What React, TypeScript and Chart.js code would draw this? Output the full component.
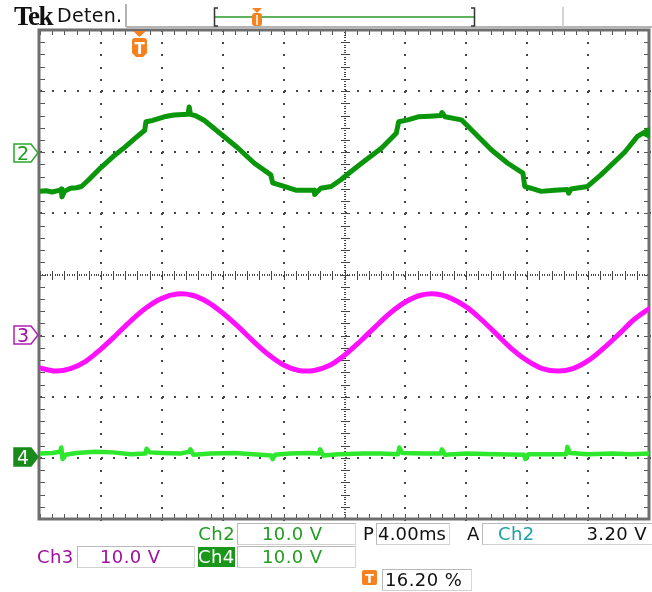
import React, { useEffect, useRef } from 'react';
import { Chart, registerables } from 'chart.js';
Chart.register(...registerables);

// time in divisions (4.00 ms/div), values in screen divisions (center = 0)
const ch2Time = [-0.03, 0.1, 0.2, 0.33, 0.35, 0.36, 0.4, 0.5, 0.6, 0.68, 0.8, 1.0, 1.2, 1.39, 1.55, 1.72, 1.74, 1.85, 2.04, 2.2, 2.43, 2.45, 2.47, 2.55, 2.7, 2.92, 3.25, 3.52, 3.79, 3.82, 4.01, 4.2, 4.5, 4.51, 4.61, 4.78, 4.94, 5.05, 5.28, 5.61, 5.85, 5.89, 6.04, 6.21, 6.4, 6.58, 6.6, 6.65, 6.92, 7.03, 7.41, 7.68, 7.93, 7.96, 8.1, 8.23, 8.45, 8.66, 8.68, 8.72, 8.99, 9.21, 9.6, 9.81, 10.0];
const ch2Volt = [1.36, 1.37, 1.35, 1.38, 1.40, 1.27, 1.36, 1.41, 1.42, 1.44, 1.55, 1.75, 1.93, 2.08, 2.22, 2.36, 2.50, 2.52, 2.58, 2.61, 2.62, 2.74, 2.62, 2.60, 2.52, 2.34, 2.07, 1.82, 1.63, 1.50, 1.44, 1.38, 1.38, 1.31, 1.41, 1.44, 1.55, 1.64, 1.82, 2.07, 2.31, 2.50, 2.53, 2.58, 2.59, 2.60, 2.65, 2.58, 2.53, 2.42, 2.04, 1.82, 1.66, 1.44, 1.40, 1.36, 1.38, 1.39, 1.33, 1.40, 1.44, 1.63, 2.00, 2.26, 2.37];

const ch3Time = [0, 0.25, 0.5, 0.75, 1, 1.25, 1.5, 1.75, 2, 2.25, 2.5, 2.75, 3, 3.25, 3.5, 3.75, 4, 4.25, 4.5, 4.75, 5, 5.25, 5.5, 5.75, 6, 6.25, 6.5, 6.75, 7, 7.25, 7.5, 7.75, 8, 8.25, 8.5, 8.75, 9, 9.25, 9.5, 9.75, 10];
const ch3Volt = [-1.53, -1.58, -1.54, -1.42, -1.22, -0.99, -0.75, -0.54, -0.39, -0.32, -0.34, -0.45, -0.63, -0.85, -1.09, -1.31, -1.48, -1.57, -1.57, -1.49, -1.32, -1.10, -0.86, -0.63, -0.45, -0.34, -0.32, -0.39, -0.53, -0.74, -0.98, -1.22, -1.41, -1.54, -1.58, -1.54, -1.41, -1.21, -0.98, -0.74, -0.56];

const ch4Time = [0, 0.2, 0.33, 0.35, 0.37, 0.42, 0.6, 0.9, 1.2, 1.5, 1.73, 1.75, 1.8, 2.0, 2.3, 2.45, 2.47, 2.52, 2.8, 3.2, 3.5, 3.8, 3.82, 3.86, 4.1, 4.4, 4.58, 4.6, 4.65, 4.9, 5.3, 5.6, 5.88, 5.9, 5.95, 6.3, 6.58, 6.6, 6.65, 7.0, 7.5, 7.95, 7.97, 8.02, 8.3, 8.64, 8.66, 8.7, 9.0, 9.4, 9.7, 10];
const ch4Volt = [-2.93, -2.92, -2.90, -2.83, -3.02, -2.95, -2.92, -2.90, -2.91, -2.94, -2.93, -2.85, -2.91, -2.92, -2.93, -2.90, -2.86, -2.95, -2.93, -2.92, -2.94, -2.96, -3.02, -2.95, -2.93, -2.92, -2.93, -2.86, -2.96, -2.94, -2.93, -2.93, -2.94, -2.83, -2.92, -2.93, -2.93, -2.86, -2.95, -2.93, -2.94, -2.95, -3.02, -2.94, -2.94, -2.94, -2.82, -2.92, -2.94, -2.93, -2.94, -2.93];

const xDivs = [0, 1, 2, 3, 4, 5, 6, 7, 8, 9, 10];
const yDivs = [-4, -3, -2, -1, 0, 1, 2, 3, 4];

const zip = (t: number[], v: number[]) => t.map((x, i) => ({ x, y: v[i] }));

const graticule = {
  id: 'graticule',
  beforeDatasetsDraw(chart: any) {
    const { ctx, chartArea: a, scales } = chart;
    const sx = scales.x, sy = scales.y;
    ctx.save();
    ctx.fillStyle = '#444';
    xDivs.forEach((d) => {
      if (d === 0 || d === 10 || d === 5) return;
      const px = Math.round(sx.getPixelForValue(d));
      for (let j = -20; j <= 20; j++) {
        const py = Math.round(sy.getPixelForValue(j * 0.2));
        ctx.fillRect(px - 1, py, 2, 2);
      }
    });
    yDivs.forEach((d) => {
      if (d === -4 || d === 4 || d === 0) return;
      const py = Math.round(sy.getPixelForValue(d));
      for (let j = 0; j <= 50; j++) {
        const px = Math.round(sx.getPixelForValue(j * 0.2));
        ctx.fillRect(px, py - 1, 2, 2);
      }
    });
    const cx = Math.round(sx.getPixelForValue(5));
    const cy = Math.round(sy.getPixelForValue(0));
    for (let j = -100; j <= 100; j++) {
      const py = Math.round(sy.getPixelForValue(j * 0.04));
      ctx.fillRect(cx - 1, py, 2, 1);
    }
    for (let j = 0; j <= 250; j++) {
      const px = Math.round(sx.getPixelForValue(j * 0.04));
      ctx.fillRect(px, cy - 1, 1, 2);
    }
    for (let j = -20; j <= 20; j++) {
      const py = Math.round(sy.getPixelForValue(j * 0.2));
      ctx.fillRect(cx - 4, py, 9, 1);
    }
    for (let j = 0; j <= 50; j++) {
      const px = Math.round(sx.getPixelForValue(j * 0.2));
      ctx.fillRect(px, cy - 4, 1, 9);
    }
    ctx.fillStyle = '#555';
    for (let j = 0; j <= 50; j++) {
      const px = Math.round(sx.getPixelForValue(j * 0.2));
      ctx.fillRect(px, a.top, 1, 5);
      ctx.fillRect(px, a.bottom - 5, 1, 5);
    }
    for (let j = -20; j <= 20; j++) {
      const py = Math.round(sy.getPixelForValue(j * 0.2));
      ctx.fillRect(a.left, py, 5, 1);
      ctx.fillRect(a.right - 5, py, 5, 1);
    }
    ctx.strokeStyle = '#6e6e6e';
    ctx.lineWidth = 3;
    ctx.strokeRect(a.left - 1, a.top, a.right - a.left + 1, a.bottom - a.top);
    ctx.restore();
  },
};

const font = '"DejaVu Sans", Verdana, sans-serif';
const GREEN = '#1f9e1f';
const MAG = '#a010a0';

function Txt(props: { x?: number; right?: number; y: number; color: string; children: any; h?: number; size?: number; ls?: number }) {
  const h = props.h ?? 21;
  const style: any = {
    position: 'absolute', top: props.y, height: h, lineHeight: h + 'px',
    fontFamily: font, fontSize: (props.size ?? 18) + 'px', color: props.color,
    whiteSpace: 'pre', letterSpacing: (props.ls ?? 0.4) + 'px',
  };
  if (props.right !== undefined) style.right = props.right; else style.left = props.x;
  return <div style={style}>{props.children}</div>;
}

function Box(props: { x: number; y: number; w: number; h?: number; bg?: string }) {
  return <div style={{ position: 'absolute', left: props.x, top: props.y, width: props.w, height: props.h ?? 22, boxSizing: 'border-box', border: '1px solid #b9b9b9', borderRightColor: '#d6d6d6', borderBottomColor: '#d0d0d0', background: props.bg ?? '#fff' }} />;
}

export default function App() {
  const ref = useRef<HTMLCanvasElement>(null);
  useEffect(() => {
    document.body.style.margin = '0';
    const common = { pointRadius: 0, borderJoinStyle: 'round', borderCapStyle: 'round' };
    const chart = new Chart(ref.current as HTMLCanvasElement, {
      type: 'line',
      data: {
        datasets: [
          { ...common, data: zip(ch4Time, ch4Volt), borderColor: '#2ee82e', borderWidth: 4.5, tension: 0 },
          { ...common, data: zip(ch3Time, ch3Volt), borderColor: '#ff10ff', borderWidth: 5, tension: 0.35 },
          { ...common, data: zip(ch2Time, ch2Volt), borderColor: '#0a960a', borderWidth: 5, tension: 0 },
        ],
      },
      options: {
        animation: false,
        responsive: false,
        devicePixelRatio: 1,
        layout: { padding: { left: 40, top: 30, right: 3, bottom: 73 } },
        scales: {
          x: { type: 'linear', min: 0, max: 10, display: false },
          y: { type: 'linear', min: -4, max: 4, display: false },
        },
        plugins: { legend: { display: false }, tooltip: { enabled: false } },
      },
      plugins: [graticule],
    } as any);
    return () => chart.destroy();
  }, []);

  const marker = (cy: number, stroke: string, fill: string, txt: string, tcol: string) => (
    <g>
      <polygon points={`14,${cy - 9} 31,${cy - 9} 38,${cy} 31,${cy + 9} 14,${cy + 9}`} fill={fill} stroke={stroke} strokeWidth={1.5} />
      <text x={23} y={cy + 7} textAnchor="middle" fontFamily={font} fontSize={19} fill={tcol}>{txt}</text>
    </g>
  );

  return (
    <div style={{ position: 'relative', width: 652, height: 592, background: '#fff', overflow: 'hidden' }}>
      <canvas ref={ref} width={652} height={592} style={{ display: 'block' }} />
      <svg width={652} height={592} style={{ position: 'absolute', left: 0, top: 0, pointerEvents: 'none' }}>
        <line x1={126} y1={4} x2={126} y2={27} stroke="#9a9a9a" strokeWidth={1.5} />
        <line x1={126} y1={27} x2={652} y2={27} stroke="#b4b4b4" strokeWidth={2} />
        <line x1={563} y1={7} x2={563} y2={27} stroke="#c4c4c4" strokeWidth={1.5} />
        <line x1={214} y1={17} x2={475} y2={17} stroke="#2a9a2a" strokeWidth={1.5} />
        <path d="M218,8 H214.5 V26 H218" fill="none" stroke="#333" strokeWidth={1.5} />
        <path d="M471,8 H474.5 V26 H471" fill="none" stroke="#333" strokeWidth={1.5} />
        <polygon points="252,8 262,8 257,13" fill="#f5821f" />
        <rect x={252} y={13} width={10} height={13} rx={3} fill="#f5821f" />
        <line x1={257} y1={15} x2={257} y2={25} stroke="#fff" strokeWidth={1.5} />
        <polygon points="133,31 146,31 139.5,37" fill="#f5821f" />
        <path d="M132,41 Q132,38 135,38 H144 Q147,38 147,41 V53 L143,57 H136 L132,53 Z" fill="#f5821f" />
        <text x={139.5} y={54} textAnchor="middle" fontFamily={font} fontWeight="bold" fontSize={15} fill="#fff">T</text>
        {marker(153, '#2aa82a', '#fff', '2', GREEN)}
        {marker(335, '#b020b0', '#fff', '3', MAG)}
        {marker(457, '#1a8a1a', '#1a8a1a', '4', '#fff')}
        <polygon points="650,128 638,133.5 650,139" fill="#0a960a" />
        <path d="M548,539 H553 L557.5,527 H562" fill="none" stroke="#111" strokeWidth={2.5} />
        <rect x={362} y={570} width={15} height={15} rx={2} fill="#f5821f" />
        <text x={369.5} y={583} textAnchor="middle" fontFamily={font} fontWeight="bold" fontSize={13} fill="#fff">T</text>
      </svg>

      <div style={{ position: 'absolute', left: 14, top: 3, fontFamily: '"Liberation Serif", serif', fontWeight: 'bold', fontSize: '27px', lineHeight: '26px', letterSpacing: '-1.5px', color: '#111' }}>Tek</div>
      <Txt x={57} y={4} h={22} size={19} color="#111" ls={0.3}>Deten.</Txt>

      <Box x={237} y={523} w={119} />
      <Box x={376} y={523} w={74} />
      <Box x={482} y={523} w={172} />
      <Box x={77} y={546} w={118} />
      <Box x={237} y={546} w={119} />
      <div style={{ position: 'absolute', left: 198, top: 547, width: 37, height: 20, background: '#1a961a' }} />
      <Box x={382} y={569} w={90} />

      <Txt right={417} y={523} color={GREEN}>Ch2</Txt>
      <Txt x={262} y={523} color={GREEN}>10.0 V</Txt>
      <Txt x={363} y={523} color="#111">P</Txt>
      <Txt x={378} y={523} color="#111" ls={0.2}>4.00ms</Txt>
      <Txt x={467} y={523} color="#111">A</Txt>
      <Txt x={498} y={523} color="#1fa0a8">Ch2</Txt>
      <Txt right={5} y={523} color="#111">3.20 V</Txt>

      <Txt x={37} y={546} color={MAG}>Ch3</Txt>
      <Txt x={100} y={546} color={MAG}>10.0 V</Txt>
      <Txt x={198} y={546} color="#fff">Ch4</Txt>
      <Txt x={262} y={546} color={GREEN}>10.0 V</Txt>

      <Txt x={385} y={569} color="#111">16.20 %</Txt>
    </div>
  );
}
